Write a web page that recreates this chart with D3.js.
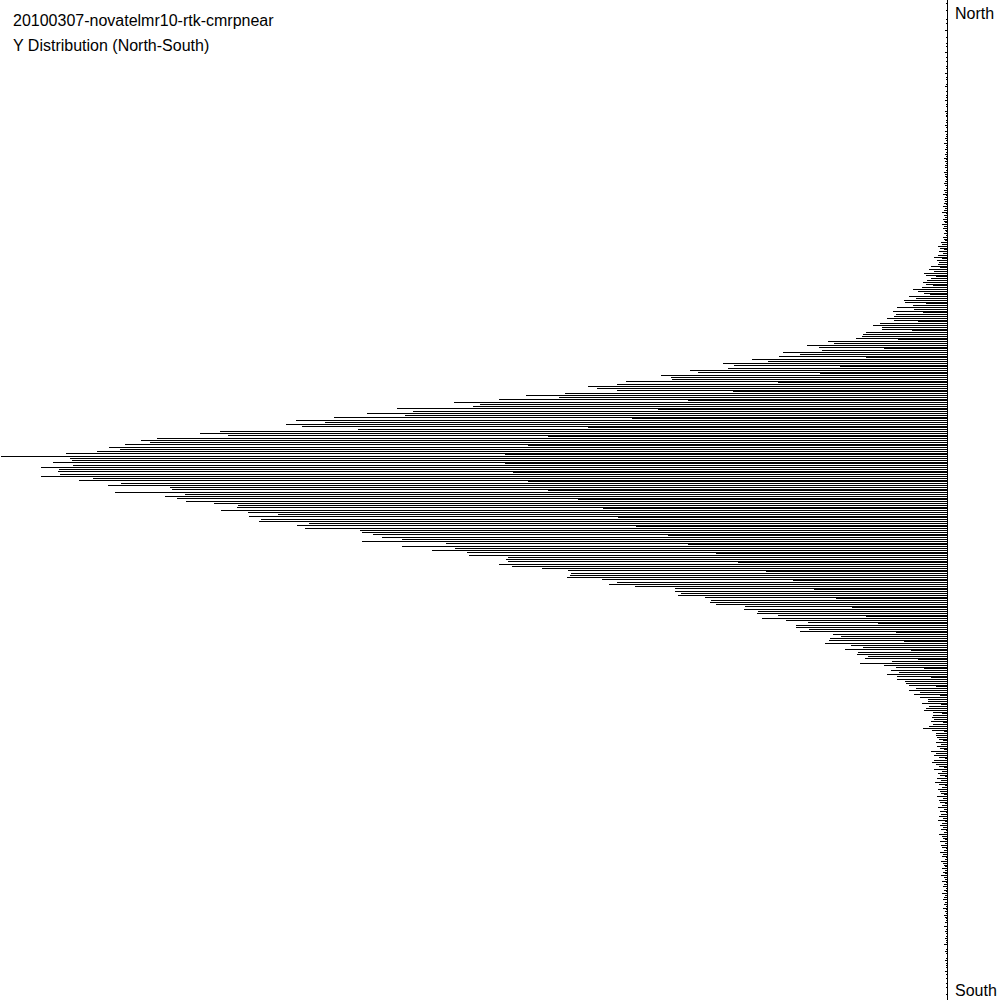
<!DOCTYPE html>
<html>
<head>
<meta charset="utf-8">
<script src="https://cdn.jsdelivr.net/npm/d3@7"></script>
<style>
  html, body { margin: 0; padding: 0; background: #fff; }
  svg { display: block; }
  text { font-family: Arial, "Liberation Sans", sans-serif; fill: #000; }
</style>
</head>
<body>
<div id="chart"></div>
<script>
// Histogram of north-south position, one row per bin, top = North.
// Values are counts (top tail, flanks, peak, bottom tail).
const topTail = [
  1, 2, 1, 1, 2, 1, 1, 1, 2, 1, 2, 1, 1, 3, 1, 1, 2, 1, 1, 2, 2, 1, 1, 3, 1, 2, 1,
  2, 1, 2, 2, 1, 3, 1, 2, 2, 1, 2, 3, 1, 2, 1, 2, 2, 3, 1, 2, 2, 1, 3, 2, 2, 1, 2,
  2, 3, 2, 1, 3, 2, 2, 3, 2, 4, 2, 2, 3, 2, 3, 2, 4, 3, 2, 3, 3, 2, 4, 3, 3, 2,
  3, 4, 3, 2, 4, 3, 5, 3, 4, 3, 4, 5, 3, 4, 6, 4, 3, 5, 4, 6, 4, 5, 3,
];
const upperFlank = [
  4, 2, 5, 4, 7, 6, 10, 8, 9, 5, 10, 14, 11, 9, 10, 17, 19, 14, 24, 22,
  17, 21, 25, 22, 26, 35, 30, 24, 39, 32, 44, 43, 35, 51, 34, 55, 52, 54, 61, 54,
  68, 75, 66, 66, 82, 85, 86, 92, 120, 114, 141, 129, 126, 165, 148, 169, 196, 180, 225, 214,
  220, 258, 250, 287, 277, 276,
];
const peak = [
  322, 331, 360, 351, 331, 383, 422, 389, 449, 493, 468, 474, 550, 534, 580, 542, 613, 651,
  622, 661, 645, 589, 727, 747, 719, 790, 806, 797, 822, 838, 827, 850, 881, 946, 877, 875,
  894, 874, 906, 888, 889, 887, 906, 854, 868, 826, 839, 777, 775, 832, 762, 782, 770,
];
const lowerFlank = [
  761, 733, 709, 710, 726, 699, 669, 698, 686, 688, 638, 650, 642, 587, 585, 574, 565, 545,
  585, 501, 545, 492, 515, 480, 478, 440, 442, 440, 449, 436, 406, 380, 377, 378, 381, 346,
  331, 339, 313, 273, 273, 267, 270, 243, 237,
  238, 232, 203, 204, 190, 191, 170, 186, 162, 140, 152, 152, 139, 148, 115, 107, 118, 119,
  123, 97, 85, 103, 90, 91, 80, 83, 56, 88, 64, 52, 57, 49, 61, 51, 51, 43, 42, 39, 32, 39,
  28, 34, 28, 20, 20, 26, 19, 22, 24, 15, 15, 16, 14, 17, 15, 19, 25, 16, 12, 12, 11, 9,
  12, 7, 11, 8, 17, 12, 14, 9, 14, 16,
];
const bottomTail = [
  12, 9, 14, 6, 10, 8, 11, 7, 13, 9, 6, 10, 8, 7, 11, 5, 9, 8, 6, 10, 4, 8, 7, 9, 5, 10,
  6, 8, 5, 7, 4, 9, 6, 5, 8, 3, 7, 6, 4, 8, 5, 6, 3, 7, 5, 4, 6, 3, 5, 7, 4, 3, 6, 4, 5,
  2, 4, 6, 3, 4, 5,
  3, 4, 2, 5, 3, 2, 4, 3, 2, 3, 1, 4, 2, 3, 2, 1, 3, 2, 2, 4, 1, 2, 3, 2, 1, 2, 3, 1, 2,
  2, 1, 3, 2, 1, 2, 1, 2, 1, 2, 1, 1, 2, 1, 1,
];
// Lighter in-between bins (about every 9th pixel row) top to bottom
const inBetween = [
  1, 1, 0, 1, 1, 1, 0, 1, 1, 1, 1, 1, 2, 1, 1, 1, 1, 2, 1, 2, 1, 2, 2, 2, 3, 2,
  3, 4, 6, 8, 12, 15, 18, 22, 25, 30, 36, 50, 64, 82, 108, 128, 170, 215, 260, 290,
  316, 360, 400, 420, 443, 443, 435, 420, 400, 370, 345, 330, 312, 280, 260, 232, 210, 182,
  155, 134, 112, 96, 82, 70, 52, 44, 37, 30, 24, 17, 12, 8, 7, 6, 5,
  4, 5, 4, 3, 4, 3, 3, 4, 3, 2, 3, 2, 3, 2, 2, 3, 2, 2, 1, 2, 2, 1, 2, 1, 1, 2, 1, 1, 1, 1,
];
const titleLines = ['20100307-novatelmr10-rtk-cmrpnear', 'Y Distribution (North-South)'];
const endLabels = ['North', 'South'];

const counts = [...topTail, ...upperFlank, ...peak, ...lowerFlank, ...bottomTail];

const width = 1000;
const height = 1000;
const baseX = 947;

const svg = d3
  .select('#chart')
  .append('svg')
  .attr('width', width)
  .attr('height', height);

const yscale = d3
  .scaleBand()
  .domain(d3.range(counts.length))
  .range([0, height]);

const xscale = d3
  .scaleLinear()
  .domain([0, d3.max(counts)])
  .range([baseX + 1, 1]);

const rowOf = (i) => Math.floor(yscale(i) + yscale.bandwidth() / 2);

// Pixel rows left free between main bins (3px gaps) hold the lighter bins
const betweenScale = d3.scaleQuantize().domain([0, height]).range(inBetween);
const gapRows = d3
  .range(counts.length - 1)
  .filter((i) => rowOf(i + 1) - rowOf(i) === 3)
  .map((i) => rowOf(i) + 1);
const gapData = gapRows.map((row) => ({ row, value: betweenScale(row) }));

const mainData = counts.map((value, i) => ({ row: rowOf(i), value }));

const bars = svg.append('g').attr('shape-rendering', 'crispEdges');

bars
  .selectAll('line')
  .data([...gapData, ...mainData])
  .enter()
  .append('line')
  .attr('x1', (d) => xscale(d.value))
  .attr('x2', baseX + 1)
  .attr('y1', (d) => d.row + 0.5)
  .attr('y2', (d) => d.row + 0.5)
  .attr('stroke', '#000')
  .attr('stroke-width', 1);

// Baseline
svg
  .append('line')
  .attr('x1', baseX + 0.5)
  .attr('x2', baseX + 0.5)
  .attr('y1', 0)
  .attr('y2', height)
  .attr('stroke', '#000')
  .attr('shape-rendering', 'crispEdges');

// Titles
svg
  .selectAll('text.title')
  .data(titleLines)
  .enter()
  .append('text')
  .attr('class', 'title')
  .attr('x', 13)
  .attr('y', (d, i) => 26 + i * 25)
  .style('font-size', '16px')
  .text((d) => d);

svg
  .selectAll('text.end')
  .data(endLabels)
  .enter()
  .append('text')
  .attr('class', 'end')
  .attr('x', 955)
  .attr('y', (d, i) => (i === 0 ? 19 : 996))
  .style('font-size', '16px')
  .text((d) => d);
</script>
</body>
</html>
